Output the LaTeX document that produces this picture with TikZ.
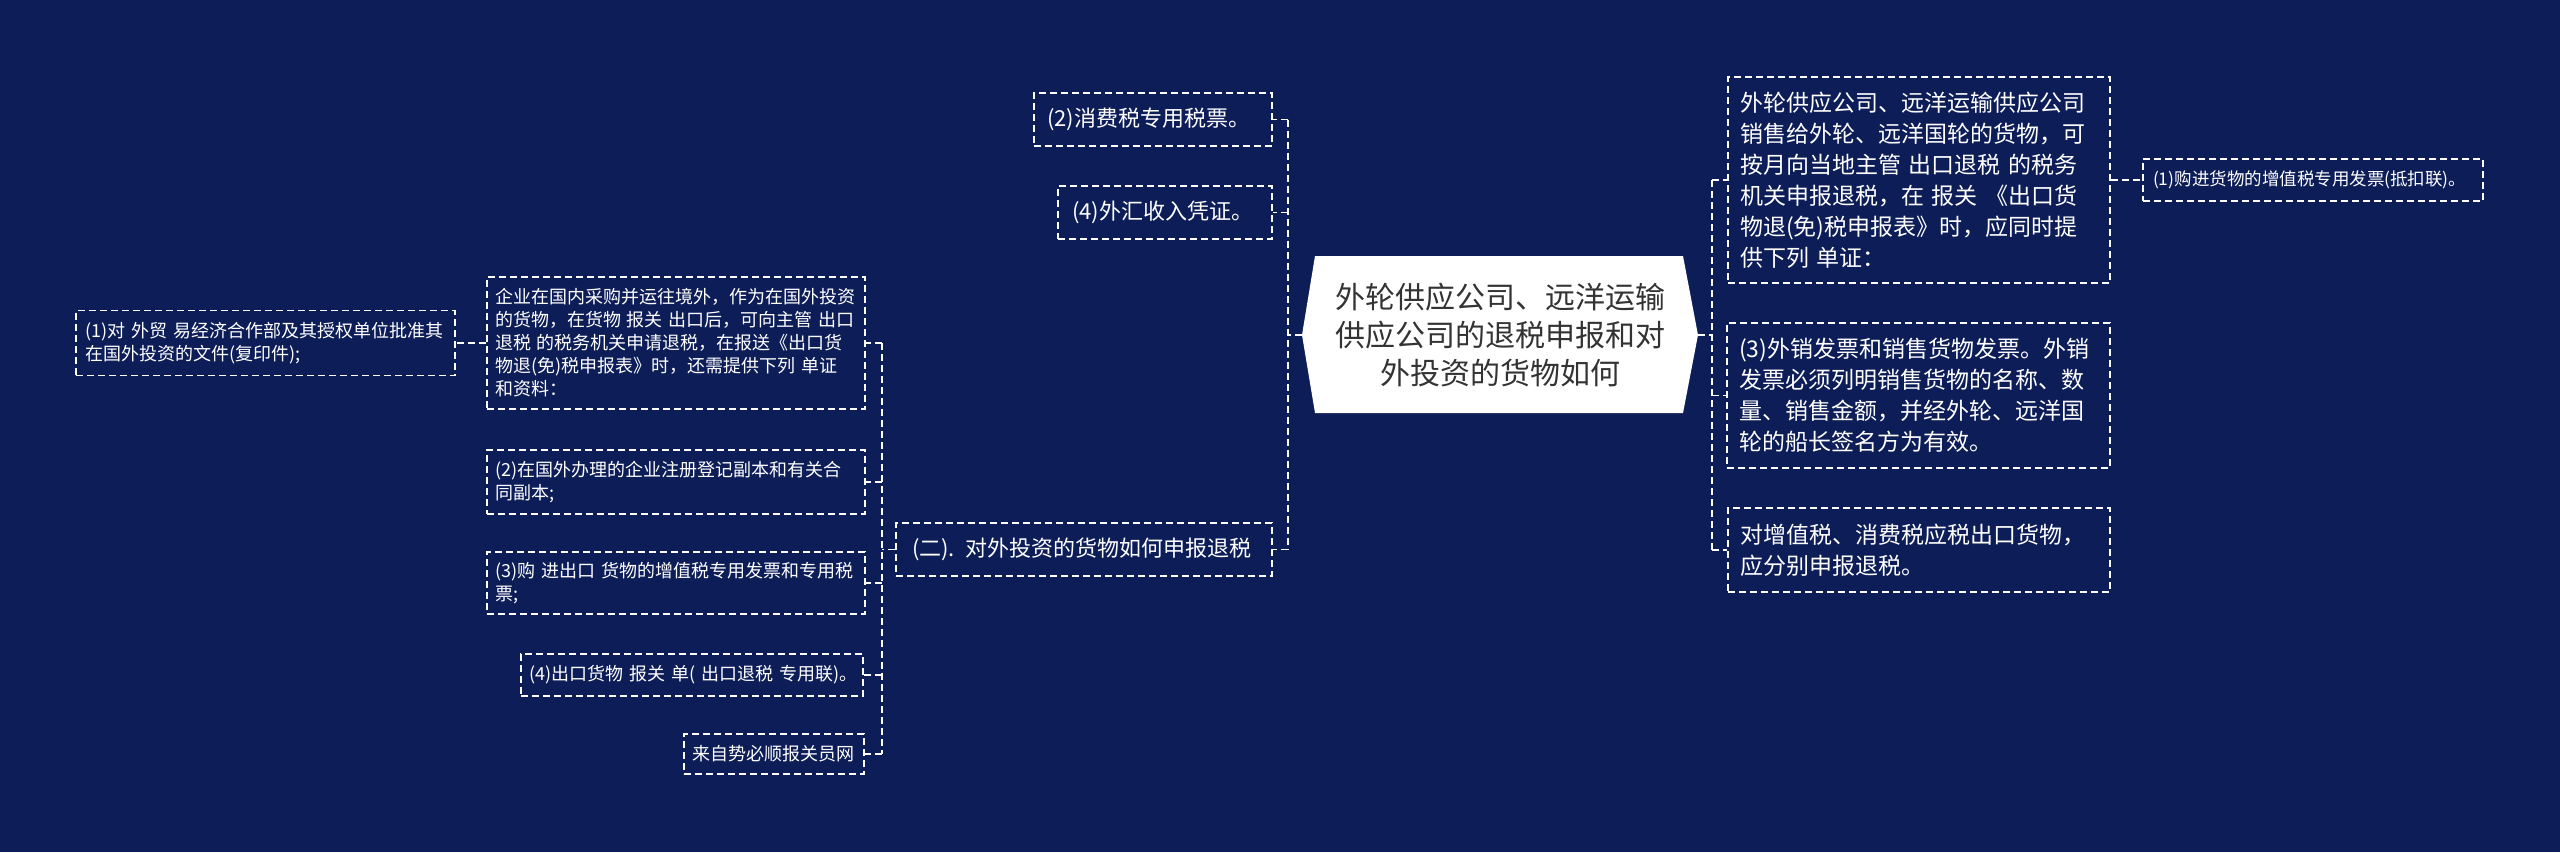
\documentclass[tikz,border=0pt]{standalone}
\usepackage{fontspec}
\setmainfont{Noto Sans CJK SC}
\definecolor{bg}{RGB}{13,29,88}
\definecolor{ctext}{RGB}{51,51,51}
\begin{document}
\begin{tikzpicture}[x=1pt,y=-1pt,
  box/.style={draw=white, line width=1.5pt, dash pattern=on 7pt off 4pt, fill=bg, text=white, inner ysep=0pt, align=left, anchor=center},
  link/.style={draw=white, line width=1.5pt, dash pattern=on 7pt off 4pt},
  fa/.style={font=\fontsize{23}{31}\selectfont},
  fb/.style={font=\fontsize{22}{28}\selectfont},
  fc/.style={font=\fontsize{18}{23}\selectfont},
  fd/.style={font=\fontsize{17.5}{22}\selectfont}
]
\fill[bg] (0,0) rectangle (2560,852);
\useasboundingbox (0,0) rectangle (2560,852);

% central topic
\fill[white] (1302,335) -- (1315,256) -- (1683,256) -- (1698,335) -- (1683,413) -- (1315,413) -- cycle;
\node[font=\fontsize{30}{38}\selectfont, text=ctext, align=center, minimum width=396pt, minimum height=157pt, inner sep=0pt] (c) at (1500,335) {外轮供应公司、远洋运输\\供应公司的退税申报和对\\外投资的货物如何};

% right side
\node[box, fa, inner xsep=12pt, text width=358pt, minimum height=206pt] (r1) at (1919,180) {外轮供应公司、远洋运输供应公司\\销售给外轮、远洋国轮的货物，可\\按月向当地主管 出口退税 的税务\\机关申报退税，在 报关 《出口货\\物退(免)税申报表》时，应同时提\\供下列 单证：};
\node[box, fa, inner xsep=12pt, text width=359pt, minimum height=145pt] (r2) at (1918.5,395.5) {(3)外销发票和销售货物发票。外销\\发票必须列明销售货物的名称、数\\量、销售金额，并经外轮、远洋国\\轮的船长签名方为有效。};
\node[box, fa, inner xsep=12pt, text width=358pt, minimum height=84pt] (r3) at (1919,550) {对增值税、消费税应税出口货物，\\应分别申报退税。};
\node[box, fd, inner xsep=10pt, text width=320pt, minimum height=42pt] (r4) at (2313,180) {\mbox{(1)购进货物的增值税专用发票(抵扣联)。}};

\coordinate (rb) at (1712,335);
\draw[link] (c.east) -- (rb);
\draw[link] (rb |- r1.west) -- (rb |- r3.west);
\draw[link] (rb |- r1.west) -- (r1.west);
\draw[link] (rb |- r2.west) -- (r2.west);
\draw[link] (rb |- r3.west) -- (r3.west);
\draw[link] (r1.east) -- (r4.west);

% left side, first level
\node[box, fb, inner xsep=13pt, text width=212pt, minimum height=53pt] (l1) at (1153,119.5) {\mbox{(2)消费税专用税票。}};
\node[box, fb, inner xsep=14pt, text width=186pt, minimum height=53pt] (l2) at (1165,212.5) {\mbox{(4)外汇收入凭证。}};
\node[box, fb, inner xsep=16pt, text width=344pt, minimum height=53pt] (l3) at (1084,549.5) {\mbox{(二). 对外投资的货物如何申报退税}};

\coordinate (lb) at (1288,335);
\draw[link] (c.west) -- (lb);
\draw[link] (lb |- l1.east) -- (lb |- l3.east);
\draw[link] (lb |- l1.east) -- (l1.east);
\draw[link] (lb |- l2.east) -- (l2.east);
\draw[link] (lb |- l3.east) -- (l3.east);

% left side, second level
\node[box, fc, inner xsep=8pt, text width=362pt, minimum height=132pt] (a1) at (676,343) {企业在国内采购并运往境外，作为在国外投资\\的货物，在货物 报关 出口后，可向主管 出口\\退税 的税务机关申请退税，在报送《出口货\\物退(免)税申报表》时，还需提供下列 单证\\和资料：};
\node[box, fc, inner xsep=8pt, text width=362pt, minimum height=64pt] (a2) at (676,482) {(2)在国外办理的企业注册登记副本和有关合\\同副本;};
\node[box, fc, inner xsep=8pt, text width=362pt, minimum height=62pt] (a3) at (676,583) {(3)购 进出口 货物的增值税专用发票和专用税\\票;};
\node[box, fc, inner xsep=8pt, text width=326pt, minimum height=42pt] (a4) at (692,675) {\mbox{(4)出口货物 报关 单( 出口退税 专用联)。}};
\node[box, fc, inner xsep=8pt, text width=164pt, minimum height=40pt] (a5) at (774,754) {\mbox{来自势必顺报关员网}};
\node[box, fc, inner xsep=9pt, text width=361pt, minimum height=65pt] (a0) at (265.5,343) {(1)对 外贸 易经济合作部及其授权单位批准其\\在国外投资的文件(复印件);};

\coordinate (mb) at (882,549.5);
\draw[link] (l3.west) -- (mb);
\draw[link] (mb |- a1.east) -- (mb |- a5.east);
\draw[link] (mb |- a1.east) -- (a1.east);
\draw[link] (mb |- a2.east) -- (a2.east);
\draw[link] (mb |- a3.east) -- (a3.east);
\draw[link] (mb |- a4.east) -- (a4.east);
\draw[link] (mb |- a5.east) -- (a5.east);
\draw[link] (a1.west) -- (a0.east);
\end{tikzpicture}
\end{document}
